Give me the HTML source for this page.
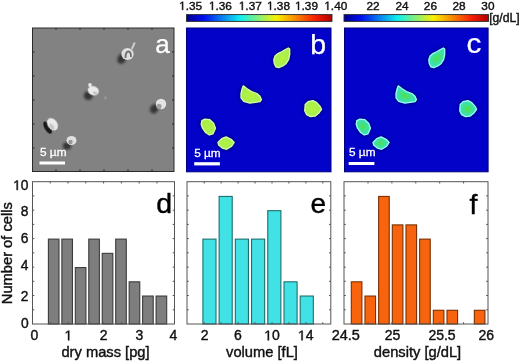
<!DOCTYPE html>
<html><head><meta charset="utf-8"><style>
html,body{margin:0;padding:0;background:#fff;overflow:hidden}
svg{display:block;filter:blur(0.35px)}
text{font-family:"Liberation Sans",sans-serif;font-kerning:none}
</style></head><body>
<svg width="520" height="362" viewBox="0 0 520 362">
<defs>
<linearGradient id="jet" x1="0" x2="1" y1="0" y2="0">
<stop offset="0" stop-color="#000090"/>
<stop offset="0.12" stop-color="#0010f0"/>
<stop offset="0.37" stop-color="#10f0f0"/>
<stop offset="0.62" stop-color="#f8f000"/>
<stop offset="0.88" stop-color="#f82000"/>
<stop offset="1" stop-color="#b00000"/>
</linearGradient>
<filter id="bl1" x="-50%" y="-50%" width="200%" height="200%"><feGaussianBlur stdDeviation="0.7"/></filter>
<filter id="bl06" x="-50%" y="-50%" width="200%" height="200%"><feGaussianBlur stdDeviation="0.55"/></filter>
<filter id="bl12" x="-50%" y="-50%" width="200%" height="200%"><feGaussianBlur stdDeviation="1.2"/></filter>
<filter id="bl2" x="-50%" y="-50%" width="200%" height="200%"><feGaussianBlur stdDeviation="1.5"/></filter>
<clipPath id="clipa"><rect x="32" y="27.5" width="142" height="144"/></clipPath>
<clipPath id="clipb"><rect x="186" y="27.5" width="145" height="144.5"/></clipPath>
<clipPath id="clipc"><rect x="344" y="27.5" width="144" height="144.5"/></clipPath>
</defs>
<rect width="520" height="362" fill="#fff"/>

<!-- colorbars -->
<rect x="186.5" y="14.6" width="145.5" height="6.8" fill="url(#jet)" stroke="#2a2a2a" stroke-width="0.9"/>
<rect x="344" y="14.6" width="144.5" height="6.8" fill="url(#jet)" stroke="#2a2a2a" stroke-width="0.9"/>
<g font-size="11.8" fill="#111" stroke="#111" stroke-width="0.4" text-anchor="middle">
<text x="190.6" y="9.9"> .35</text><path d="M515,0 L515,1237 L197,1010 L197,1180 L530,1409 L696,1409 L696,0 Z" transform="translate(179.12 9.9) scale(0.005762 -0.005762)" stroke-width="69.4"/>
<text x="220.4" y="9.9"> .36</text><path d="M515,0 L515,1237 L197,1010 L197,1180 L530,1409 L696,1409 L696,0 Z" transform="translate(208.92 9.9) scale(0.005762 -0.005762)" stroke-width="69.4"/>
<text x="250.3" y="9.9"> .37</text><path d="M515,0 L515,1237 L197,1010 L197,1180 L530,1409 L696,1409 L696,0 Z" transform="translate(238.82 9.9) scale(0.005762 -0.005762)" stroke-width="69.4"/>
<text x="278.5" y="9.9"> .38</text><path d="M515,0 L515,1237 L197,1010 L197,1180 L530,1409 L696,1409 L696,0 Z" transform="translate(267.02 9.9) scale(0.005762 -0.005762)" stroke-width="69.4"/>
<text x="306.5" y="9.9"> .39</text><path d="M515,0 L515,1237 L197,1010 L197,1180 L530,1409 L696,1409 L696,0 Z" transform="translate(295.02 9.9) scale(0.005762 -0.005762)" stroke-width="69.4"/>
<text x="335.8" y="9.9"> .40</text><path d="M515,0 L515,1237 L197,1010 L197,1180 L530,1409 L696,1409 L696,0 Z" transform="translate(324.32 9.9) scale(0.005762 -0.005762)" stroke-width="69.4"/>
<text x="373" y="9.9">22</text>
<text x="402.1" y="9.9">24</text>
<text x="430.4" y="9.9">26</text>
<text x="459" y="9.9">28</text>
<text x="487.9" y="9.9">30</text>
<text x="504.4" y="21.8" font-size="12.2">[g/dL]</text>
</g>

<!-- panel a -->
<rect x="32.5" y="28" width="141.5" height="143.5" fill="#828282" stroke="#2a2a2a" stroke-width="1"/>
<!-- panel b -->
<rect x="186.5" y="28" width="144.5" height="143.8" fill="#0202c8" stroke="#00007c" stroke-width="1"/>
<!-- panel c -->
<rect x="344.5" y="28" width="143.6" height="143.8" fill="#0202c8" stroke="#00007c" stroke-width="1"/>

<g clip-path="url(#clipa)"><ellipse cx="122" cy="58.5" rx="4.2" ry="5.5" transform="rotate(30 122 58.5)" fill="#1a1a1a" opacity="0.75" filter="url(#bl12)"/>
<ellipse cx="127.5" cy="54" rx="6.2" ry="6" transform="rotate(0 127.5 54)" fill="#e4e4e4" opacity="0.95" filter="url(#bl1)"/>
<path d="M125.5,58 C125.5,53 126.5,51.5 128.5,51.5 C130.5,51.5 131,53.5 131,57" fill="none" stroke="#707070" stroke-width="1.8" filter="url(#bl1)"/>
<line x1="131.8" y1="49" x2="134.8" y2="42.5" stroke="#d0d0d0" stroke-width="1.8" filter="url(#bl1)"/>
<ellipse cx="88.3" cy="95.8" rx="4.5" ry="4.2" transform="rotate(20 88.3 95.8)" fill="#1a1a1a" opacity="0.75" filter="url(#bl12)"/>
<ellipse cx="93.3" cy="90.8" rx="5.6" ry="4.5" transform="rotate(20 93.3 90.8)" fill="#f0f0f0" opacity="0.95" filter="url(#bl1)"/>
<ellipse cx="90" cy="85" rx="1.8" ry="2" transform="rotate(0 90 85)" fill="#e8e8e8" opacity="1" filter="url(#bl1)"/>
<ellipse cx="95" cy="93" rx="2.2" ry="1.4" transform="rotate(20 95 93)" fill="#b0b0b0" opacity="0.7" filter="url(#bl1)"/>
<ellipse cx="105.5" cy="97.8" rx="1.6" ry="1.6" transform="rotate(0 105.5 97.8)" fill="#a0a0a0" opacity="0.7" filter="url(#bl1)"/>
<ellipse cx="154.3" cy="108.8" rx="4" ry="4.8" transform="rotate(30 154.3 108.8)" fill="#1a1a1a" opacity="0.75" filter="url(#bl12)"/>
<ellipse cx="161" cy="104" rx="5.2" ry="5.2" transform="rotate(0 161 104)" fill="#eaeaea" opacity="0.95" filter="url(#bl1)"/>
<ellipse cx="159" cy="106.5" rx="2.6" ry="2.8" transform="rotate(0 159 106.5)" fill="#9a9a9a" opacity="0.9" filter="url(#bl1)"/>
<ellipse cx="47.6" cy="127.6" rx="3" ry="6.8" transform="rotate(-30 47.6 127.6)" fill="#111" opacity="0.9" filter="url(#bl1)"/>
<ellipse cx="52.5" cy="124.3" rx="4.8" ry="6.8" transform="rotate(-35 52.5 124.3)" fill="#f0f0f0" opacity="0.95" filter="url(#bl1)"/>
<ellipse cx="51.8" cy="126.5" rx="1.8" ry="3.5" transform="rotate(-35 51.8 126.5)" fill="#b0b0b0" opacity="0.6" filter="url(#bl1)"/>
<ellipse cx="67" cy="146" rx="4.2" ry="3.6" transform="rotate(0 67 146)" fill="#1a1a1a" opacity="0.75" filter="url(#bl12)"/>
<ellipse cx="71.5" cy="140.5" rx="5" ry="4.5" transform="rotate(0 71.5 140.5)" fill="#e6e6e6" opacity="0.95" filter="url(#bl1)"/>
<ellipse cx="70.5" cy="142" rx="2.2" ry="2.2" transform="rotate(0 70.5 142)" fill="#909090" opacity="0.9" filter="url(#bl1)"/>
<line x1="32.5" y1="51.9" x2="34.5" y2="51.9" stroke="#333" stroke-width="1.2"/>
<line x1="174" y1="51.9" x2="172" y2="51.9" stroke="#333" stroke-width="1.2"/>
<line x1="56" y1="28" x2="56" y2="30" stroke="#333" stroke-width="1.2"/>
<line x1="56" y1="171.5" x2="56" y2="169.5" stroke="#333" stroke-width="1.2"/>
<line x1="32.5" y1="75.9" x2="34.5" y2="75.9" stroke="#333" stroke-width="1.2"/>
<line x1="174" y1="75.9" x2="172" y2="75.9" stroke="#333" stroke-width="1.2"/>
<line x1="80" y1="28" x2="80" y2="30" stroke="#333" stroke-width="1.2"/>
<line x1="80" y1="171.5" x2="80" y2="169.5" stroke="#333" stroke-width="1.2"/>
<line x1="32.5" y1="99.9" x2="34.5" y2="99.9" stroke="#333" stroke-width="1.2"/>
<line x1="174" y1="99.9" x2="172" y2="99.9" stroke="#333" stroke-width="1.2"/>
<line x1="104" y1="28" x2="104" y2="30" stroke="#333" stroke-width="1.2"/>
<line x1="104" y1="171.5" x2="104" y2="169.5" stroke="#333" stroke-width="1.2"/>
<line x1="32.5" y1="123.9" x2="34.5" y2="123.9" stroke="#333" stroke-width="1.2"/>
<line x1="174" y1="123.9" x2="172" y2="123.9" stroke="#333" stroke-width="1.2"/>
<line x1="128" y1="28" x2="128" y2="30" stroke="#333" stroke-width="1.2"/>
<line x1="128" y1="171.5" x2="128" y2="169.5" stroke="#333" stroke-width="1.2"/>
<line x1="32.5" y1="147.9" x2="34.5" y2="147.9" stroke="#333" stroke-width="1.2"/>
<line x1="174" y1="147.9" x2="172" y2="147.9" stroke="#333" stroke-width="1.2"/>
<line x1="152" y1="28" x2="152" y2="30" stroke="#333" stroke-width="1.2"/>
<line x1="152" y1="171.5" x2="152" y2="169.5" stroke="#333" stroke-width="1.2"/></g>
<g clip-path="url(#clipb)"><polygon points="288.3,48.0 289.7,49.0 289.7,54.4 288.7,59.4 286.2,63.5 282.9,66.0 278.8,67.7 275.9,66.9 274.2,63.5 273.8,59.4 275.0,56.1 277.9,53.6 282.1,51.5 285.4,49.5" fill="#00008a" stroke="#00008a" stroke-width="3.5" stroke-linejoin="round" filter="url(#bl2)"/>
<polygon points="243.3,85.8 246.8,88.5 251.5,91.6 256.9,93.5 260.0,96.2 261.5,99.7 260.0,101.7 255.3,102.4 249.9,103.2 243.7,101.3 241.0,97.8 241.0,93.5 242.2,88.5" fill="#00008a" stroke="#00008a" stroke-width="3.5" stroke-linejoin="round" filter="url(#bl2)"/>
<polygon points="305.2,104.5 308.1,101.6 312.9,100.6 316.8,102.6 320.1,106.4 321.6,109.3 319.2,112.7 315.3,116.1 310.5,116.6 306.6,114.7 304.7,110.8" fill="#00008a" stroke="#00008a" stroke-width="3.5" stroke-linejoin="round" filter="url(#bl2)"/>
<polygon points="201.8,120.7 204.9,119.2 209.9,119.7 213.6,123.2 215.5,128.2 213.0,133.8 209.3,135.0 205.6,132.5 202.5,128.2 201.2,124.4" fill="#00008a" stroke="#00008a" stroke-width="3.5" stroke-linejoin="round" filter="url(#bl2)"/>
<polygon points="218.0,142.5 221.7,138.7 226.1,136.9 231.1,139.3 234.2,142.5 231.7,146.2 226.7,149.3 222.3,148.1 218.6,144.9" fill="#00008a" stroke="#00008a" stroke-width="3.5" stroke-linejoin="round" filter="url(#bl2)"/>
<polygon points="288.3,48.0 289.7,49.0 289.7,54.4 288.7,59.4 286.2,63.5 282.9,66.0 278.8,67.7 275.9,66.9 274.2,63.5 273.8,59.4 275.0,56.1 277.9,53.6 282.1,51.5 285.4,49.5" fill="#a8ef50" stroke="#d4ffa8" stroke-width="1.3" stroke-linejoin="round" filter="url(#bl06)"/>
<polygon points="285.2,52.9 285.9,53.4 285.9,56.1 285.4,58.6 284.1,60.6 282.5,61.9 280.4,62.7 279.0,62.3 278.1,60.6 277.9,58.6 278.5,56.9 280.0,55.7 282.1,54.6 283.7,53.6" fill="#b4f040" filter="url(#bl2)"/>
<polygon points="243.3,85.8 246.8,88.5 251.5,91.6 256.9,93.5 260.0,96.2 261.5,99.7 260.0,101.7 255.3,102.4 249.9,103.2 243.7,101.3 241.0,97.8 241.0,93.5 242.2,88.5" fill="#a8ef50" stroke="#d4ffa8" stroke-width="1.3" stroke-linejoin="round" filter="url(#bl06)"/>
<polygon points="246.8,90.7 248.5,92.1 250.9,93.6 253.6,94.6 255.1,95.9 255.9,97.7 255.1,98.7 252.8,99.0 250.1,99.4 247.0,98.5 245.6,96.7 245.6,94.6 246.2,92.1" fill="#b4f040" filter="url(#bl2)"/>
<polygon points="305.2,104.5 308.1,101.6 312.9,100.6 316.8,102.6 320.1,106.4 321.6,109.3 319.2,112.7 315.3,116.1 310.5,116.6 306.6,114.7 304.7,110.8" fill="#a8ef50" stroke="#d4ffa8" stroke-width="1.3" stroke-linejoin="round" filter="url(#bl06)"/>
<polygon points="309.0,106.6 310.5,105.2 312.9,104.7 314.8,105.7 316.5,107.6 317.2,109.0 316.0,110.7 314.1,112.4 311.7,112.7 309.7,111.7 308.8,109.8" fill="#b4f040" filter="url(#bl2)"/>
<polygon points="201.8,120.7 204.9,119.2 209.9,119.7 213.6,123.2 215.5,128.2 213.0,133.8 209.3,135.0 205.6,132.5 202.5,128.2 201.2,124.4" fill="#a8ef50" stroke="#d4ffa8" stroke-width="1.3" stroke-linejoin="round" filter="url(#bl06)"/>
<polygon points="204.8,123.6 206.3,122.8 208.8,123.1 210.7,124.8 211.6,127.3 210.4,130.1 208.5,130.7 206.7,129.5 205.1,127.3 204.5,125.4" fill="#b4f040" filter="url(#bl2)"/>
<polygon points="218.0,142.5 221.7,138.7 226.1,136.9 231.1,139.3 234.2,142.5 231.7,146.2 226.7,149.3 222.3,148.1 218.6,144.9" fill="#a8ef50" stroke="#d4ffa8" stroke-width="1.3" stroke-linejoin="round" filter="url(#bl06)"/>
<polygon points="221.8,142.8 223.6,140.9 225.8,140.0 228.3,141.2 229.9,142.8 228.6,144.7 226.1,146.2 223.9,145.6 222.1,144.0" fill="#b4f040" filter="url(#bl2)"/></g>
<g clip-path="url(#clipc)"><polygon points="443.3,48.0 444.7,49.0 444.7,54.4 443.7,59.4 441.2,63.5 437.9,66.0 433.8,67.7 430.9,66.9 429.2,63.5 428.8,59.4 430.0,56.1 432.9,53.6 437.1,51.5 440.4,49.5" fill="#00008a" stroke="#00008a" stroke-width="3.5" stroke-linejoin="round" filter="url(#bl2)"/>
<polygon points="398.3,85.8 401.8,88.5 406.5,91.6 411.9,93.5 415.0,96.2 416.5,99.7 415.0,101.7 410.3,102.4 404.9,103.2 398.7,101.3 396.0,97.8 396.0,93.5 397.2,88.5" fill="#00008a" stroke="#00008a" stroke-width="3.5" stroke-linejoin="round" filter="url(#bl2)"/>
<polygon points="460.2,104.5 463.1,101.6 467.9,100.6 471.8,102.6 475.1,106.4 476.6,109.3 474.2,112.7 470.3,116.1 465.5,116.6 461.6,114.7 459.7,110.8" fill="#00008a" stroke="#00008a" stroke-width="3.5" stroke-linejoin="round" filter="url(#bl2)"/>
<polygon points="356.8,120.7 359.9,119.2 364.9,119.7 368.6,123.2 370.5,128.2 368.0,133.8 364.3,135.0 360.6,132.5 357.5,128.2 356.2,124.4" fill="#00008a" stroke="#00008a" stroke-width="3.5" stroke-linejoin="round" filter="url(#bl2)"/>
<polygon points="373.0,142.5 376.7,138.7 381.1,136.9 386.1,139.3 389.2,142.5 386.7,146.2 381.7,149.3 377.3,148.1 373.6,144.9" fill="#00008a" stroke="#00008a" stroke-width="3.5" stroke-linejoin="round" filter="url(#bl2)"/>
<polygon points="443.3,48.0 444.7,49.0 444.7,54.4 443.7,59.4 441.2,63.5 437.9,66.0 433.8,67.7 430.9,66.9 429.2,63.5 428.8,59.4 430.0,56.1 432.9,53.6 437.1,51.5 440.4,49.5" fill="#3ee0b0" stroke="#98fff8" stroke-width="1.3" stroke-linejoin="round" filter="url(#bl06)"/>
<polygon points="440.2,52.9 440.9,53.4 440.9,56.1 440.4,58.6 439.1,60.6 437.5,61.9 435.4,62.7 434.0,62.3 433.1,60.6 432.9,58.6 433.5,56.9 435.0,55.7 437.1,54.6 438.7,53.6" fill="#48e258" filter="url(#bl2)"/>
<polygon points="398.3,85.8 401.8,88.5 406.5,91.6 411.9,93.5 415.0,96.2 416.5,99.7 415.0,101.7 410.3,102.4 404.9,103.2 398.7,101.3 396.0,97.8 396.0,93.5 397.2,88.5" fill="#3ee0b0" stroke="#98fff8" stroke-width="1.3" stroke-linejoin="round" filter="url(#bl06)"/>
<polygon points="401.8,90.7 403.5,92.1 405.9,93.6 408.6,94.6 410.1,95.9 410.9,97.7 410.1,98.7 407.8,99.0 405.1,99.4 402.0,98.5 400.6,96.7 400.6,94.6 401.2,92.1" fill="#48e258" filter="url(#bl2)"/>
<polygon points="460.2,104.5 463.1,101.6 467.9,100.6 471.8,102.6 475.1,106.4 476.6,109.3 474.2,112.7 470.3,116.1 465.5,116.6 461.6,114.7 459.7,110.8" fill="#3ee0b0" stroke="#98fff8" stroke-width="1.3" stroke-linejoin="round" filter="url(#bl06)"/>
<polygon points="464.0,106.6 465.5,105.2 467.9,104.7 469.8,105.7 471.5,107.6 472.2,109.0 471.0,110.7 469.1,112.4 466.7,112.7 464.7,111.7 463.8,109.8" fill="#48e258" filter="url(#bl2)"/>
<polygon points="356.8,120.7 359.9,119.2 364.9,119.7 368.6,123.2 370.5,128.2 368.0,133.8 364.3,135.0 360.6,132.5 357.5,128.2 356.2,124.4" fill="#3ee0b0" stroke="#98fff8" stroke-width="1.3" stroke-linejoin="round" filter="url(#bl06)"/>
<polygon points="359.8,123.6 361.3,122.8 363.8,123.1 365.7,124.8 366.6,127.3 365.4,130.1 363.5,130.7 361.7,129.5 360.1,127.3 359.5,125.4" fill="#48e258" filter="url(#bl2)"/>
<polygon points="373.0,142.5 376.7,138.7 381.1,136.9 386.1,139.3 389.2,142.5 386.7,146.2 381.7,149.3 377.3,148.1 373.6,144.9" fill="#3ee0b0" stroke="#98fff8" stroke-width="1.3" stroke-linejoin="round" filter="url(#bl06)"/>
<polygon points="376.8,142.8 378.6,140.9 380.9,140.0 383.4,141.2 384.9,142.8 383.6,144.7 381.1,146.2 378.9,145.6 377.1,144.0" fill="#48e258" filter="url(#bl2)"/></g>
<g fill="#fff" stroke="#fff" stroke-width="0.25">
<text x="155.3" y="53" font-size="26">a</text>
<text x="310.3" y="53.5" font-size="28.5">b</text>
<text x="466.5" y="53" font-size="27" transform="translate(466.5 0) scale(1.1 1) translate(-466.5 0)">c</text>
</g>
<g font-size="11.8" fill="#fff" stroke="#fff" stroke-width="0.3">
<text x="40" y="155.7">5 µm</text>
<text x="194.2" y="157">5 µm</text>
<text x="349" y="156.3">5 µm</text>
</g>
<rect x="39.5" y="161.5" width="25.5" height="3" fill="#fff"/>
<rect x="194.2" y="162.2" width="25.7" height="3.2" fill="#fff"/>
<rect x="348.7" y="162" width="25.7" height="3" fill="#fff"/>

<!-- histograms -->
<rect x="48.40" y="239.12" width="10.60" height="84.88" fill="#7e7e7e" stroke="#3c3c3c" stroke-width="1.1"/>
<rect x="61.86" y="239.12" width="10.60" height="84.88" fill="#7e7e7e" stroke="#3c3c3c" stroke-width="1.1"/>
<rect x="75.32" y="267.58" width="10.60" height="56.42" fill="#7e7e7e" stroke="#3c3c3c" stroke-width="1.1"/>
<rect x="88.78" y="239.12" width="10.60" height="84.88" fill="#7e7e7e" stroke="#3c3c3c" stroke-width="1.1"/>
<rect x="102.24" y="253.35" width="10.60" height="70.65" fill="#7e7e7e" stroke="#3c3c3c" stroke-width="1.1"/>
<rect x="115.70" y="239.12" width="10.60" height="84.88" fill="#7e7e7e" stroke="#3c3c3c" stroke-width="1.1"/>
<rect x="129.16" y="281.81" width="10.60" height="42.19" fill="#7e7e7e" stroke="#3c3c3c" stroke-width="1.1"/>
<rect x="142.62" y="296.04" width="10.60" height="27.96" fill="#7e7e7e" stroke="#3c3c3c" stroke-width="1.1"/>
<rect x="156.08" y="296.04" width="10.60" height="27.96" fill="#7e7e7e" stroke="#3c3c3c" stroke-width="1.1"/>
<rect x="202.90" y="239.12" width="13.10" height="84.88" fill="#40e2e6" stroke="#1f6e6e" stroke-width="1.1"/>
<rect x="219.12" y="196.43" width="13.10" height="127.57" fill="#40e2e6" stroke="#1f6e6e" stroke-width="1.1"/>
<rect x="235.34" y="239.12" width="13.10" height="84.88" fill="#40e2e6" stroke="#1f6e6e" stroke-width="1.1"/>
<rect x="251.56" y="239.12" width="13.10" height="84.88" fill="#40e2e6" stroke="#1f6e6e" stroke-width="1.1"/>
<rect x="267.78" y="210.66" width="13.10" height="113.34" fill="#40e2e6" stroke="#1f6e6e" stroke-width="1.1"/>
<rect x="284.00" y="281.81" width="13.10" height="42.19" fill="#40e2e6" stroke="#1f6e6e" stroke-width="1.1"/>
<rect x="300.22" y="296.04" width="13.10" height="27.96" fill="#40e2e6" stroke="#1f6e6e" stroke-width="1.1"/>
<rect x="351.30" y="281.81" width="10.60" height="42.19" fill="#f8640e" stroke="#7a3000" stroke-width="1.1"/>
<rect x="364.97" y="296.04" width="10.60" height="27.96" fill="#f8640e" stroke="#7a3000" stroke-width="1.1"/>
<rect x="378.64" y="196.43" width="10.60" height="127.57" fill="#f8640e" stroke="#7a3000" stroke-width="1.1"/>
<rect x="392.31" y="224.89" width="10.60" height="99.11" fill="#f8640e" stroke="#7a3000" stroke-width="1.1"/>
<rect x="405.98" y="224.89" width="10.60" height="99.11" fill="#f8640e" stroke="#7a3000" stroke-width="1.1"/>
<rect x="419.65" y="239.12" width="10.60" height="84.88" fill="#f8640e" stroke="#7a3000" stroke-width="1.1"/>
<rect x="433.32" y="310.27" width="10.60" height="13.73" fill="#f8640e" stroke="#7a3000" stroke-width="1.1"/>
<rect x="446.99" y="310.27" width="10.60" height="13.73" fill="#f8640e" stroke="#7a3000" stroke-width="1.1"/>
<rect x="474.33" y="310.27" width="10.60" height="13.73" fill="#f8640e" stroke="#7a3000" stroke-width="1.1"/>
<rect x="32.5" y="181.7" width="142.0" height="142.3" fill="none" stroke="#555" stroke-width="1"/>
<rect x="187.0" y="181.7" width="143.8" height="142.3" fill="none" stroke="#555" stroke-width="1"/>
<rect x="344.0" y="181.7" width="144.0" height="142.3" fill="none" stroke="#555" stroke-width="1"/>
<g stroke="#555" stroke-width="1">
<line x1="32.5" y1="309.8" x2="34.3" y2="309.8"/>
<line x1="174.5" y1="309.8" x2="172.7" y2="309.8"/>
<line x1="32.5" y1="295.5" x2="34.3" y2="295.5"/>
<line x1="174.5" y1="295.5" x2="172.7" y2="295.5"/>
<line x1="32.5" y1="281.3" x2="34.3" y2="281.3"/>
<line x1="174.5" y1="281.3" x2="172.7" y2="281.3"/>
<line x1="32.5" y1="267.1" x2="34.3" y2="267.1"/>
<line x1="174.5" y1="267.1" x2="172.7" y2="267.1"/>
<line x1="32.5" y1="252.8" x2="34.3" y2="252.8"/>
<line x1="174.5" y1="252.8" x2="172.7" y2="252.8"/>
<line x1="32.5" y1="238.6" x2="34.3" y2="238.6"/>
<line x1="174.5" y1="238.6" x2="172.7" y2="238.6"/>
<line x1="32.5" y1="224.4" x2="34.3" y2="224.4"/>
<line x1="174.5" y1="224.4" x2="172.7" y2="224.4"/>
<line x1="32.5" y1="210.2" x2="34.3" y2="210.2"/>
<line x1="174.5" y1="210.2" x2="172.7" y2="210.2"/>
<line x1="32.5" y1="195.9" x2="34.3" y2="195.9"/>
<line x1="174.5" y1="195.9" x2="172.7" y2="195.9"/>
<line x1="187" y1="309.8" x2="188.8" y2="309.8"/>
<line x1="330.8" y1="309.8" x2="329.0" y2="309.8"/>
<line x1="187" y1="295.5" x2="188.8" y2="295.5"/>
<line x1="330.8" y1="295.5" x2="329.0" y2="295.5"/>
<line x1="187" y1="281.3" x2="188.8" y2="281.3"/>
<line x1="330.8" y1="281.3" x2="329.0" y2="281.3"/>
<line x1="187" y1="267.1" x2="188.8" y2="267.1"/>
<line x1="330.8" y1="267.1" x2="329.0" y2="267.1"/>
<line x1="187" y1="252.8" x2="188.8" y2="252.8"/>
<line x1="330.8" y1="252.8" x2="329.0" y2="252.8"/>
<line x1="187" y1="238.6" x2="188.8" y2="238.6"/>
<line x1="330.8" y1="238.6" x2="329.0" y2="238.6"/>
<line x1="187" y1="224.4" x2="188.8" y2="224.4"/>
<line x1="330.8" y1="224.4" x2="329.0" y2="224.4"/>
<line x1="187" y1="210.2" x2="188.8" y2="210.2"/>
<line x1="330.8" y1="210.2" x2="329.0" y2="210.2"/>
<line x1="187" y1="195.9" x2="188.8" y2="195.9"/>
<line x1="330.8" y1="195.9" x2="329.0" y2="195.9"/>
<line x1="344" y1="309.8" x2="345.8" y2="309.8"/>
<line x1="488" y1="309.8" x2="486.2" y2="309.8"/>
<line x1="344" y1="295.5" x2="345.8" y2="295.5"/>
<line x1="488" y1="295.5" x2="486.2" y2="295.5"/>
<line x1="344" y1="281.3" x2="345.8" y2="281.3"/>
<line x1="488" y1="281.3" x2="486.2" y2="281.3"/>
<line x1="344" y1="267.1" x2="345.8" y2="267.1"/>
<line x1="488" y1="267.1" x2="486.2" y2="267.1"/>
<line x1="344" y1="252.8" x2="345.8" y2="252.8"/>
<line x1="488" y1="252.8" x2="486.2" y2="252.8"/>
<line x1="344" y1="238.6" x2="345.8" y2="238.6"/>
<line x1="488" y1="238.6" x2="486.2" y2="238.6"/>
<line x1="344" y1="224.4" x2="345.8" y2="224.4"/>
<line x1="488" y1="224.4" x2="486.2" y2="224.4"/>
<line x1="344" y1="210.2" x2="345.8" y2="210.2"/>
<line x1="488" y1="210.2" x2="486.2" y2="210.2"/>
<line x1="344" y1="195.9" x2="345.8" y2="195.9"/>
<line x1="488" y1="195.9" x2="486.2" y2="195.9"/>
<line x1="50.2" y1="181.7" x2="50.2" y2="183.5"/>
<line x1="50.2" y1="324.0" x2="50.2" y2="322.2"/>
<line x1="68.0" y1="181.7" x2="68.0" y2="183.5"/>
<line x1="68.0" y1="324.0" x2="68.0" y2="322.2"/>
<line x1="85.8" y1="181.7" x2="85.8" y2="183.5"/>
<line x1="85.8" y1="324.0" x2="85.8" y2="322.2"/>
<line x1="103.6" y1="181.7" x2="103.6" y2="183.5"/>
<line x1="103.6" y1="324.0" x2="103.6" y2="322.2"/>
<line x1="121.4" y1="181.7" x2="121.4" y2="183.5"/>
<line x1="121.4" y1="324.0" x2="121.4" y2="322.2"/>
<line x1="139.2" y1="181.7" x2="139.2" y2="183.5"/>
<line x1="139.2" y1="324.0" x2="139.2" y2="322.2"/>
<line x1="157.0" y1="181.7" x2="157.0" y2="183.5"/>
<line x1="157.0" y1="324.0" x2="157.0" y2="322.2"/>
<line x1="204.2" y1="181.7" x2="204.2" y2="183.5"/>
<line x1="204.2" y1="324.0" x2="204.2" y2="322.2"/>
<line x1="221.1" y1="181.7" x2="221.1" y2="183.5"/>
<line x1="221.1" y1="324.0" x2="221.1" y2="322.2"/>
<line x1="238.1" y1="181.7" x2="238.1" y2="183.5"/>
<line x1="238.1" y1="324.0" x2="238.1" y2="322.2"/>
<line x1="255.0" y1="181.7" x2="255.0" y2="183.5"/>
<line x1="255.0" y1="324.0" x2="255.0" y2="322.2"/>
<line x1="272.0" y1="181.7" x2="272.0" y2="183.5"/>
<line x1="272.0" y1="324.0" x2="272.0" y2="322.2"/>
<line x1="288.9" y1="181.7" x2="288.9" y2="183.5"/>
<line x1="288.9" y1="324.0" x2="288.9" y2="322.2"/>
<line x1="305.9" y1="181.7" x2="305.9" y2="183.5"/>
<line x1="305.9" y1="324.0" x2="305.9" y2="322.2"/>
<line x1="322.8" y1="181.7" x2="322.8" y2="183.5"/>
<line x1="322.8" y1="324.0" x2="322.8" y2="322.2"/>
<line x1="368.0" y1="181.7" x2="368.0" y2="183.5"/>
<line x1="368.0" y1="324.0" x2="368.0" y2="322.2"/>
<line x1="391.9" y1="181.7" x2="391.9" y2="183.5"/>
<line x1="391.9" y1="324.0" x2="391.9" y2="322.2"/>
<line x1="415.8" y1="181.7" x2="415.8" y2="183.5"/>
<line x1="415.8" y1="324.0" x2="415.8" y2="322.2"/>
<line x1="439.7" y1="181.7" x2="439.7" y2="183.5"/>
<line x1="439.7" y1="324.0" x2="439.7" y2="322.2"/>
<line x1="463.6" y1="181.7" x2="463.6" y2="183.5"/>
<line x1="463.6" y1="324.0" x2="463.6" y2="322.2"/>
</g>
<g font-size="28.5" fill="#000" stroke="#000" stroke-width="0.4">
<text x="156.3" y="213.2">d</text>
<text x="310.5" y="212.5" font-size="28">e</text>
<text x="469.5" y="213.8">f</text>
</g>
<g font-size="13.8" fill="#111" stroke="#111" stroke-width="0.4" text-anchor="end">
<text x="28.5" y="190.0"> 0</text><path d="M515,0 L515,1237 L197,1010 L197,1180 L530,1409 L696,1409 L696,0 Z" transform="translate(13.15 190.0) scale(0.006738 -0.006738)" stroke-width="59.4"/>
<text x="28.5" y="215.8">8</text>
<text x="28.5" y="243.2">6</text>
<text x="28.5" y="270.4">4</text>
<text x="28.5" y="300.5">2</text>
<text x="28.8" y="328.4">0</text>
</g>
<g font-size="14" fill="#111" stroke="#111" stroke-width="0.4" text-anchor="middle">
<text x="34.3" y="340.3">0</text>
<text x="68.4" y="340.3"> </text><path d="M515,0 L515,1237 L197,1010 L197,1180 L530,1409 L696,1409 L696,0 Z" transform="translate(64.51 340.3) scale(0.006836 -0.006836)" stroke-width="58.5"/>
<text x="103.6" y="340.3">2</text>
<text x="139.4" y="340.3">3</text>
<text x="173.5" y="340.3">4</text>
<text x="204.6" y="340.3">2</text>
<text x="237.9" y="340.3">6</text>
<text x="272.0" y="340.3"> 0</text><path d="M515,0 L515,1237 L197,1010 L197,1180 L530,1409 L696,1409 L696,0 Z" transform="translate(264.21 340.3) scale(0.006836 -0.006836)" stroke-width="58.5"/>
<text x="305.7" y="340.3"> 4</text><path d="M515,0 L515,1237 L197,1010 L197,1180 L530,1409 L696,1409 L696,0 Z" transform="translate(297.91 340.3) scale(0.006836 -0.006836)" stroke-width="58.5"/>
<text x="345.8" y="340.3" font-size="14.5">24.5</text>
<text x="392.5" y="340.3">25</text>
<text x="442" y="340.3">25.5</text>
<text x="486.2" y="340.3">26</text>
</g>
<g font-size="14.7" fill="#111" stroke="#111" stroke-width="0.4" text-anchor="middle">
<text x="105.5" y="356.8">dry mass [pg]</text>
<text x="262" y="356.8">volume [fL]</text>
<text x="417.5" y="356.8">density [g/dL]</text>
<text transform="translate(12.3,253.2) rotate(-90)">Number of cells</text>
</g>
</svg>
</body></html>
